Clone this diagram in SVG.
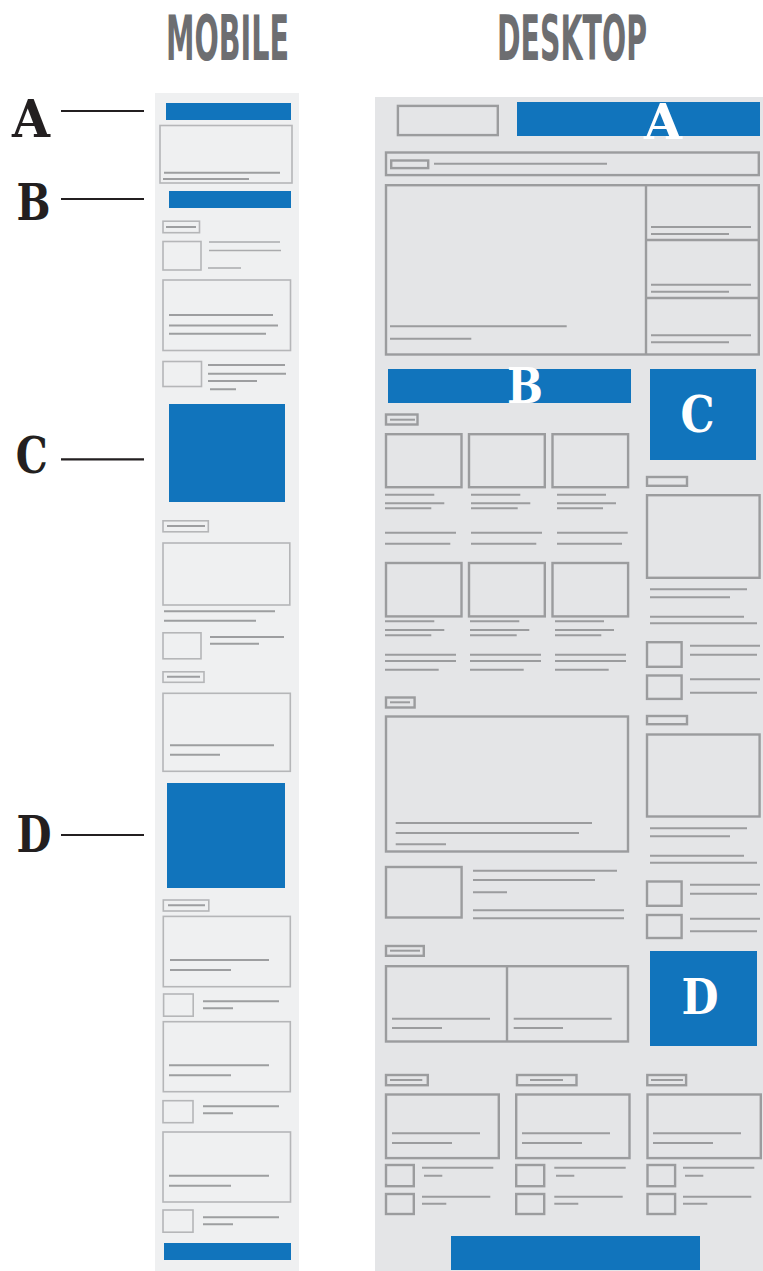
<svg xmlns="http://www.w3.org/2000/svg" width="763" height="1271" viewBox="0 0 763 1271">
<style>
.bg{fill:#ffffff}
.mp{fill:#eff0f1}
.dp{fill:#e4e5e7}
.blue{fill:#1174bc}
.mb{fill:none;stroke:#b5b6b8;stroke-width:1.6}
.ml{fill:none;stroke:#9d9ea0;stroke-width:2}
.mt{fill:none;stroke:#aaabad;stroke-width:1.4}
.db{fill:none;stroke:#9b9c9e;stroke-width:2.4}
.dl{fill:none;stroke:#9b9c9e;stroke-width:2}
.title{font-family:"DejaVu Sans Condensed","DejaVu Sans",sans-serif;font-weight:bold;font-size:62px;fill:#6d6e71}
.key{font-family:"DejaVu Serif","Liberation Serif",serif;font-weight:bold;fill:#231f20;text-anchor:middle}
.wkey{font-family:"DejaVu Serif","Liberation Serif",serif;font-weight:bold;fill:#ffffff;text-anchor:middle}
.kl{stroke:#231f20;stroke-width:2.2}
</style>
<rect class="bg" x="0" y="0" width="763" height="1271"/>

<g id="titles">
<text class="title" transform="translate(166 60) scale(0.55 1)" x="0" y="0" textLength="223.6" lengthAdjust="spacingAndGlyphs">MOBILE</text>
<text class="title" transform="translate(497 60) scale(0.55 1)" x="0" y="0" textLength="272.7" lengthAdjust="spacingAndGlyphs">DESKTOP</text>
</g>

<g id="keys">
<text class="key" x="31" y="137" font-size="53" textLength="38" lengthAdjust="spacingAndGlyphs">A</text>
<text class="key" x="33.5" y="220" font-size="51" textLength="34" lengthAdjust="spacingAndGlyphs">B</text>
<text class="key" x="31.7" y="473" font-size="51" textLength="32" lengthAdjust="spacingAndGlyphs">C</text>
<text class="key" x="34" y="852" font-size="51" textLength="35" lengthAdjust="spacingAndGlyphs">D</text>
</g>
<g id="connectors">
<path class="kl" d="M61 111H144M61 199H144M61 459.3H144M61 835H144"/>
</g>

<g id="mobile">
<rect class="mp" x="155" y="93" width="144" height="1178"/>
<rect class="blue" x="166" y="103" width="125" height="17"/>
<rect class="mb" x="160" y="125.5" width="132" height="57.5"/>
<path class="ml" d="M164 172.7H280M163 179H249"/>
<rect class="blue" x="169" y="191" width="122" height="17"/>
<rect class="mb" x="163" y="221.2" width="36.5" height="11.5"/>
<path class="ml" d="M166 227H196"/>
<rect class="mb" x="163" y="241.5" width="38" height="28.5"/>
<path class="mt" d="M209 242H280M209 250.5H281M208 268H241"/>
<rect class="mb" x="163" y="280" width="127.5" height="70.5"/>
<path class="ml" d="M169 315H273M169 325.5H278M169 333.7H266"/>
<rect class="mb" x="163" y="361.5" width="38.5" height="25"/>
<path class="ml" d="M208 365H285M208 373.7H286M208 381H257M210 389.3H236"/>
<rect class="blue" x="169" y="404" width="116" height="98"/>
<rect class="mb" x="163" y="520.8" width="45.3" height="11"/>
<path class="ml" d="M167 526H205"/>
<rect class="mb" x="163" y="543" width="126.8" height="62"/>
<path class="ml" d="M164 611.3H275M164 620.7H256"/>
<rect class="mb" x="163" y="632.8" width="38" height="26"/>
<path class="ml" d="M210 637H284M210 643.7H259"/>
<rect class="mb" x="163" y="671.8" width="41" height="10.5"/>
<path class="ml" d="M167 676.7H200"/>
<rect class="mb" x="163" y="693.3" width="127.3" height="78"/>
<path class="ml" d="M170 745.3H274M170 754.7H220"/>
<rect class="blue" x="167" y="783" width="118" height="105"/>
<rect class="mb" x="163.3" y="900" width="45.5" height="11"/>
<path class="ml" d="M168 905.3H205"/>
<rect class="mb" x="163.3" y="916.4" width="127" height="70.3"/>
<path class="ml" d="M170 960H269M170 970H231"/>
<rect class="mb" x="163.6" y="994" width="29.6" height="22.2"/>
<path class="ml" d="M203 1001.3H279M203 1008.3H233"/>
<rect class="mb" x="163.3" y="1021.7" width="127" height="70"/>
<path class="ml" d="M169 1065.3H269M169 1075.3H231"/>
<rect class="mb" x="163" y="1100.7" width="30" height="22"/>
<path class="ml" d="M203 1106.3H279M203 1113.3H233"/>
<rect class="mb" x="163" y="1132" width="127.5" height="70"/>
<path class="ml" d="M169 1175.7H269M169 1185.7H231"/>
<rect class="mb" x="163" y="1210" width="30" height="22.2"/>
<path class="ml" d="M203 1217.3H279M203 1224.3H233"/>
<rect class="blue" x="164" y="1243" width="127" height="17"/>
</g>

<g id="desktop">
<rect class="dp" x="375" y="97" width="388" height="1174"/>

<g id="d-header">
<rect class="db" x="397.9" y="105.9" width="99.9" height="29.2"/>
<rect class="blue" x="517" y="102" width="243" height="34"/>
<text class="wkey" x="663" y="138.5" font-size="48" textLength="38" lengthAdjust="spacingAndGlyphs">A</text>
<rect class="db" x="386" y="152.5" width="372.8" height="22.6"/>
<rect class="db" x="391.2" y="160.5" width="37" height="7.6"/>
<path class="dl" d="M434 163.7H607"/>
</g>

<g id="d-lead">
<rect class="db" x="386" y="185.2" width="372.8" height="169.3"/>
<path class="db" d="M646 185V355M646 240H759M646 298H759"/>
<path class="dl" d="M390 326.3H566.7M390 338.7H471.3M651 227H751M651 234H729M651 284.7H751M651 291.7H729M651 335.3H751M651 342.3H729"/>
</g>

<g id="d-b">
<rect class="blue" x="388" y="369" width="243" height="34"/>
<text class="wkey" x="525" y="403" font-size="49" textLength="36" lengthAdjust="spacingAndGlyphs">B</text>
</g>
<g id="d-c">
<rect class="blue" x="650" y="369" width="106" height="91"/>
<text class="wkey" x="697.5" y="432" font-size="50" textLength="34" lengthAdjust="spacingAndGlyphs">C</text>
</g>

<g id="d-grid">
<rect class="db" x="386" y="414.5" width="31.5" height="10"/>
<path class="dl" d="M390 419.7H415"/>
<rect class="db" x="386" y="434.2" width="75.5" height="53"/>
<rect class="db" x="469" y="434.2" width="75.8" height="53"/>
<rect class="db" x="552.5" y="434.2" width="75.6" height="53"/>
<path class="dl" d="M385 494.7H434.3M385 503.3H444.3M385 508.3H431.3M385 532.7H456M385 543.7H450.3M471 494.7H520.3M471 503.3H530.3M471 508.3H517.7M471 532.7H542M471 543.7H536.3M557 494.7H606M557 503.3H616M557 508.3H603M557 532.7H627.7M557 543.7H622"/>
<rect class="db" x="386" y="563" width="75.5" height="53.4"/>
<rect class="db" x="469" y="563" width="75.8" height="53.4"/>
<rect class="db" x="552.5" y="563" width="75.6" height="53.4"/>
<path class="dl" d="M385 621.3H434.3M385 630H444.3M385 635.3H431.3M385 654.7H456M385 661H456M385 669.7H438.7M470 621.3H519.3M470 630H529.3M470 635.3H516.7M470 654.7H541M470 661H541M470 669.7H523.7M555 621.3H604M555 630H614M555 635.3H601.3M555 654.7H626M555 661H626M555 669.7H608.7"/>
</g>

<g id="d-side1">
<rect class="db" x="647" y="477" width="40" height="8.8"/>
<rect class="db" x="647" y="495.2" width="112.6" height="82.6"/>
<path class="dl" d="M650 589.3H747M650 597.3H730M650 616.7H744M650 623.3H757"/>
<rect class="db" x="647" y="642.2" width="34.6" height="24.6"/>
<rect class="db" x="647" y="675.5" width="34.6" height="23.4"/>
<path class="dl" d="M690 645.7H760M690 654.7H757M690 679.3H760M690 692.7H757"/>
</g>

<g id="d-feature">
<rect class="db" x="386" y="697.5" width="28.6" height="10"/>
<path class="dl" d="M390 702.3H410"/>
<rect class="db" x="386" y="716.5" width="242" height="135"/>
<path class="dl" d="M395.7 823H592M395.7 833H579M395.7 844.3H446"/>
<rect class="db" x="386" y="867" width="75.6" height="50.5"/>
<path class="dl" d="M473 870.7H617M473 880H595M473 892.3H507M473 910.3H624M473 918.3H624"/>
</g>

<g id="d-side2">
<rect class="db" x="647" y="716" width="40" height="8.2"/>
<rect class="db" x="647" y="734.5" width="112.6" height="82"/>
<path class="dl" d="M650 828.3H747M650 836.3H730M650 855.7H744M650 862.7H757"/>
<rect class="db" x="647" y="881.5" width="34.6" height="24.3"/>
<rect class="db" x="647" y="915" width="34.6" height="23"/>
<path class="dl" d="M690 884.7H760M690 893.7H757M690 918.7H760M690 931.3H757"/>
</g>

<g id="d-pair">
<rect class="db" x="386" y="946" width="37.8" height="9.8"/>
<path class="dl" d="M390 950.7H420"/>
<rect class="db" x="386" y="966.2" width="242" height="75.3"/>
<path class="db" d="M507 966V1042"/>
<path class="dl" d="M392 1018.7H490M392 1028H442M513.7 1018.7H611.7M513.7 1028H563"/>
</g>

<g id="d-d">
<rect class="blue" x="650" y="951" width="107" height="95"/>
<text class="wkey" x="700" y="1014" font-size="48" textLength="37" lengthAdjust="spacingAndGlyphs">D</text>
</g>

<g id="d-cols">
<rect class="db" x="386" y="1075" width="41.8" height="10.2"/>
<rect class="db" x="517" y="1075" width="59.5" height="10.2"/>
<rect class="db" x="647.3" y="1075" width="38.8" height="10.2"/>
<path class="dl" d="M390 1080H422.3M530 1080H563M651 1080H683"/>
<rect class="db" x="386" y="1094.5" width="112.8" height="63.6"/>
<rect class="db" x="516.2" y="1094.5" width="113.3" height="63.6"/>
<rect class="db" x="647.5" y="1094.5" width="113.3" height="63.6"/>
<path class="dl" d="M392 1133.3H480M392 1143H452M522 1133.3H610M522 1143H582M653 1133.3H741M653 1143H713"/>
<rect class="db" x="386" y="1165" width="27.8" height="21.2"/>
<rect class="db" x="386" y="1194" width="27.8" height="20"/>
<rect class="db" x="516.2" y="1165" width="28" height="21.2"/>
<rect class="db" x="516.2" y="1194" width="28" height="20"/>
<rect class="db" x="647.5" y="1165" width="27.6" height="21.2"/>
<rect class="db" x="647.5" y="1194" width="27.6" height="20"/>
<path class="dl" d="M422 1167.7H493.3M424 1175.7H442.3M422 1196.7H490.3M422 1203.7H446.3M554.3 1167.7H625.7M556 1175.7H574.3M554.3 1196.7H622.7M554.3 1203.7H578.3M683 1167.7H754.3M685 1175.7H703.3M683 1196.7H751.3M683 1203.7H707.3"/>
</g>

<rect id="d-footer" class="blue" x="451" y="1236" width="249" height="34"/>
</g>
</svg>
